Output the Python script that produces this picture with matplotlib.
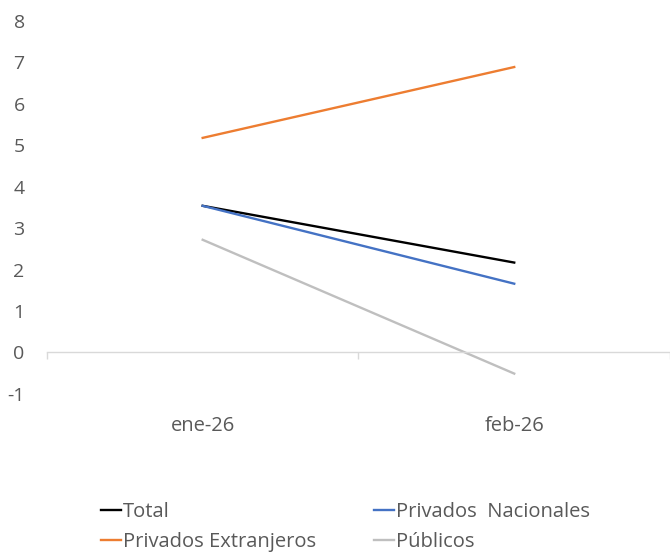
import matplotlib
matplotlib.use("Agg")
import matplotlib.pyplot as plt
import matplotlib.transforms as mtransforms

plt.rcParams['font.family'] = ['Open Sans', 'DejaVu Sans']

categories = ["ene-26", "feb-26"]
total = [3.54, 2.17]
privados_nacionales = [3.54, 1.66]
privados_extranjeros = [5.18, 6.89]
publicos = [2.72, -0.51]
yticks = [-1, 0, 1, 2, 3, 4, 5, 6, 7, 8]

text_color = "#595959"
fig = plt.figure(figsize=(6.70, 5.54), dpi=100)
ax = fig.add_axes([0.070, 0.289, 0.930, 0.673])

x = list(range(len(categories)))
h_total, = ax.plot(x, total, color="#000000", lw=1.7, label="Total")
h_nac, = ax.plot(x, privados_nacionales, color="#4472C4", lw=1.7, label="Privados  Nacionales")
h_ext, = ax.plot(x, privados_extranjeros, color="#ED7D31", lw=1.7, label="Privados Extranjeros")
h_pub, = ax.plot(x, publicos, color="#BFBFBF", lw=1.7, label="Públicos")

ax.set_xlim(-0.5, len(categories) - 0.5)
ax.set_ylim(-1, 8)
ax.set_yticks(yticks)
ax.set_yticklabels([str(v) for v in yticks], fontsize=14, color=text_color)
ax.tick_params(axis='y', length=0, pad=16)

for s in ['top', 'right', 'left']:
    ax.spines[s].set_visible(False)
ax.spines['bottom'].set_position(('data', 0))
ax.spines['bottom'].set_color("#D9D9D9")
ax.spines['bottom'].set_linewidth(1.0)
ax.set_xticks([i - 0.5 for i in range(len(categories) + 1)])
ax.set_xticklabels([])
ax.tick_params(axis='x', length=5, color="#D9D9D9", direction='out', width=1.0)

trans = mtransforms.blended_transform_factory(ax.transData, ax.transAxes)
for i, c in enumerate(categories):
    ax.text(i, -0.086, c, transform=trans, ha='center', va='center',
            fontsize=14.5, color=text_color)

leg = fig.legend([h_total, h_ext, h_nac, h_pub],
                 ["Total", "Privados Extranjeros", "Privados  Nacionales", "Públicos"],
                 ncol=2, loc='center left', bbox_to_anchor=(0.150, 0.048),
                 frameon=False, fontsize=14.5, handlelength=1.0, handletextpad=0.1,
                 columnspacing=2.9, labelspacing=0.5, borderaxespad=0, borderpad=0)
for t in leg.get_texts():
    t.set_color(text_color)

fig.savefig("out.png", dpi=100)
